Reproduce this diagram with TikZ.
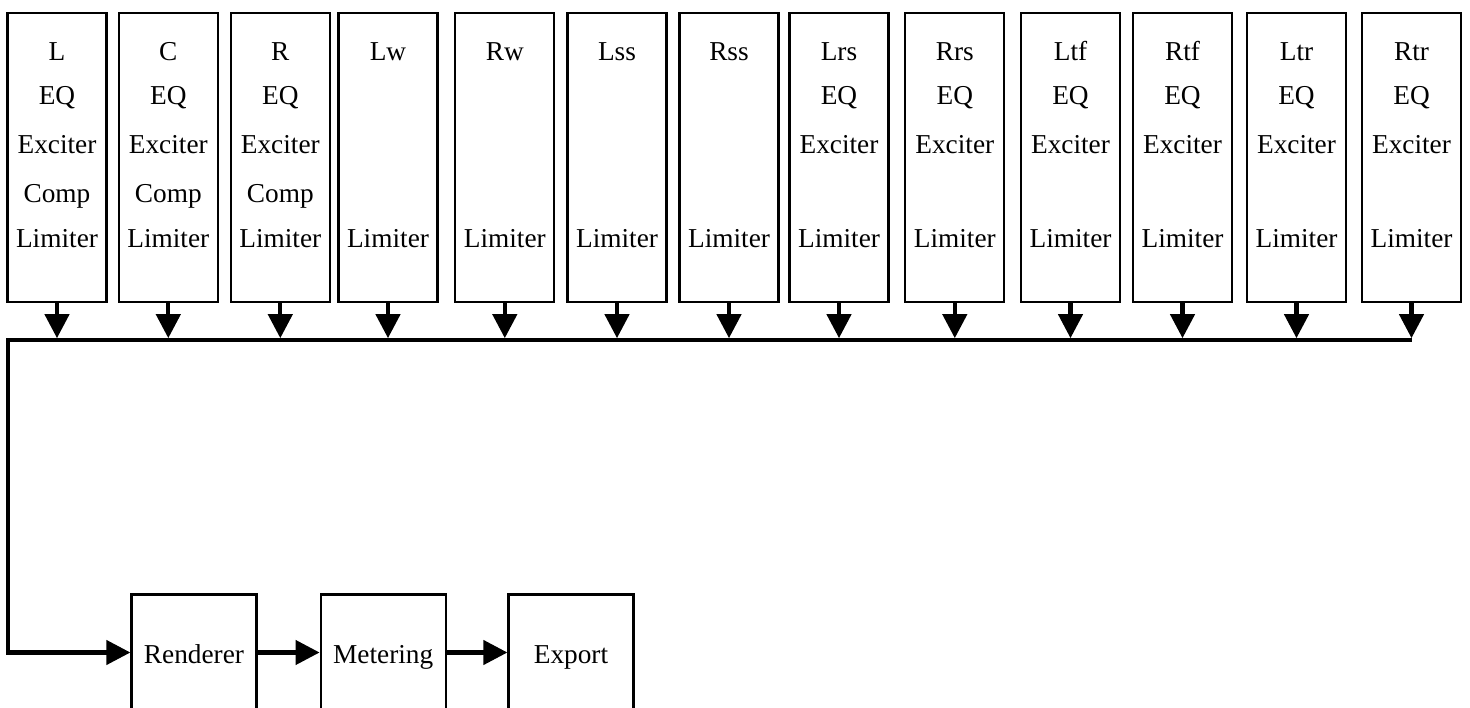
\documentclass[tikz,border=0pt]{standalone}
\usepackage{fontspec}
\setmainfont{Liberation Serif}
\usetikzlibrary{arrows.meta}

% One channel strip: box, its text lines (empty ones are skipped) and the arrow to the bus
\newcommand\chanbox[6]{%
  \node[chan] (#1) at (#2,157.7) {};
  \node[lbl] (#1-1) at (#2,61) {#3};
  \ifx\relax#4\relax\else\node[lbl] (#1-2) at (#2,105) {#4};\fi
  \ifx\relax#5\relax\else\node[lbl] (#1-3) at (#2,154) {#5};\fi
  \ifx\relax#6\relax\else\node[lbl] (#1-4) at (#2,202.5) {#6};\fi
  \node[lbl] (#1-5) at (#2,248) {Limiter};
  \draw[flow] (#1.south) -- (#1.south |- bustop);
}

\begin{document}
\begin{tikzpicture}[x=1pt,y=-1pt,
  txt/.style={font=\fontsize{27.3pt}{32pt}\selectfont},
  chan/.style={draw, line width=2.2pt, minimum width=99pt, minimum height=289pt, inner sep=0pt},
  lbl/.style={txt, anchor=base, inner sep=0pt},
  stage/.style={txt, draw, line width=2.2pt, minimum width=125pt, minimum height=116pt,
                inner sep=0pt, text height=21.5pt, text depth=0pt},
  flow/.style={line width=4.3pt, -{Triangle[width=24pt,length=24pt]}}]
\useasboundingbox (0,0) rectangle (1470,708);

\coordinate (bustop) at (0,338.2);

\chanbox{L}{57}{L}{EQ}{Exciter}{Comp}
\chanbox{C}{168.3}{C}{EQ}{Exciter}{Comp}
\chanbox{R}{280.3}{R}{EQ}{Exciter}{Comp}
\chanbox{Lw}{388}{Lw}{}{}{}
\chanbox{Rw}{504.8}{Rw}{}{}{}
\chanbox{Lss}{617}{Lss}{}{}{}
\chanbox{Rss}{729}{Rss}{}{}{}
\chanbox{Lrs}{839}{Lrs}{EQ}{Exciter}{}
\chanbox{Rrs}{954.8}{Rrs}{EQ}{Exciter}{}
\chanbox{Ltf}{1070.5}{Ltf}{EQ}{Exciter}{}
\chanbox{Rtf}{1182.5}{Rtf}{EQ}{Exciter}{}
\chanbox{Ltr}{1296.5}{Ltr}{EQ}{Exciter}{}
\chanbox{Rtr}{1411.5}{Rtr}{EQ}{Exciter}{}

% Output stages
\node[stage] (Renderer) at (194,652.5) {Renderer};
\node[stage] (Metering) at (383.2,652.5) {Metering};
\node[stage] (Export) at (571,652.5) {Export};

% Summing bus, running down to the renderer
\coordinate (busR) at (Rtr.south |- 0,340.3);
\coordinate (busL) at (8.2,340.3);
\draw[flow] (busR) -- (busL) |- (Renderer.west);

\draw[flow] (Renderer) -- (Metering);
\draw[flow] (Metering) -- (Export);
\end{tikzpicture}
\end{document}
